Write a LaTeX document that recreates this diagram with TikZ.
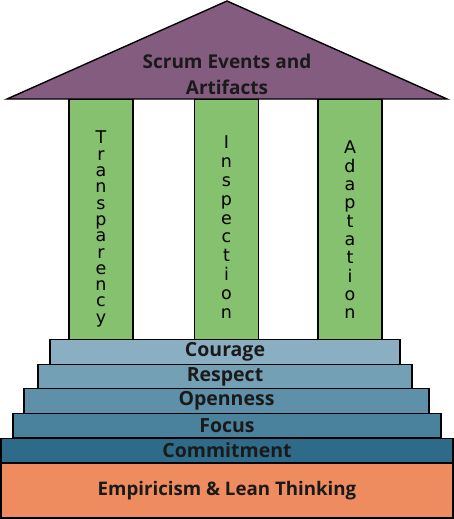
\documentclass[tikz,border=0pt]{standalone}
\usepackage{fontspec}
\setmainfont{Open Sans}
\newfontfamily\pillarfont{DejaVu Sans}
\definecolor{roofc}{HTML}{835C80}
\definecolor{pillarc}{HTML}{86C16F}
\definecolor{cour}{HTML}{8BAFC2}
\definecolor{resp}{HTML}{74A0B5}
\definecolor{open}{HTML}{5F90A9}
\definecolor{focu}{HTML}{4A819D}
\definecolor{comm}{HTML}{2E6B88}
\definecolor{empi}{HTML}{EE8C5F}
\definecolor{txt}{HTML}{1A1A1A}
\tikzset{
  outline/.style={draw=black, line width=1.4pt},
  pillarbox/.style={outline, fill=pillarc, minimum width=64pt, minimum height=241pt, inner sep=0pt},
  stepbox/.style={outline, inner sep=0pt, minimum height=24.5pt, text=txt,
    font=\bfseries\fontsize{19.5}{19.5}\selectfont},
  pillartext/.style={anchor=north, align=center, inner sep=0pt, text=black},
}
\newcommand{\colfont}[1]{\pillarfont\fontsize{17.5}{#1}\selectfont\lineskiplimit=-50pt\relax}
\begin{document}
\begin{tikzpicture}[x=1pt,y=-1pt]
\useasboundingbox (0,0) rectangle (454,519);
% pillars
\node[pillarbox] (p1) at (101,219.5) {};
\node[pillarbox] (p2) at (226.5,219.5) {};
\node[pillarbox] (p3) at (350,219.5) {};
\node[pillartext, font=\colfont{16.3}] (t1) at (101,131)
  {T\\r\\a\\n\\s\\p\\a\\r\\e\\n\\c\\y};
\node[pillartext, font=\colfont{18.8}] (t2) at (226.5,136)
  {I\\n\\s\\p\\e\\c\\t\\i\\o\\n};
\node[pillartext, font=\colfont{18.3}] (t3) at (350,141)
  {A\\d\\a\\p\\t\\a\\t\\i\\o\\n};
% roof
\coordinate (apex) at (227,1);
\coordinate (rl) at (7,99);
\coordinate (rr) at (447,99);
\draw[outline, fill=roofc, line join=miter] (rl) -- (apex) -- (rr) -- cycle;
\node[align=center, text=txt, font=\bfseries\fontsize{19}{26}\selectfont] (rooftext) at (227,74)
  {Scrum Events and\\Artifacts};
% steps
\node[stepbox, fill=cour, minimum width=350pt] (courage) at (225,352) {Courage};
\node[stepbox, fill=resp, minimum width=374pt] (respect) at (225,376.5) {Respect};
\node[stepbox, fill=open, minimum width=405pt] (openness) at (226.5,401) {Openness};
\node[stepbox, fill=focu, minimum width=428pt] (focus) at (227,425.5) {Focus};
\node[stepbox, fill=comm, minimum width=452pt] (commitment) at (227,450.5) {Commitment};
\node[stepbox, fill=empi, minimum width=452pt, minimum height=55pt, font=\bfseries\fontsize{18.7}{18.7}\selectfont] (empiricism) at (227,490.5) {Empiricism \& Lean Thinking};
\end{tikzpicture}
\end{document}
